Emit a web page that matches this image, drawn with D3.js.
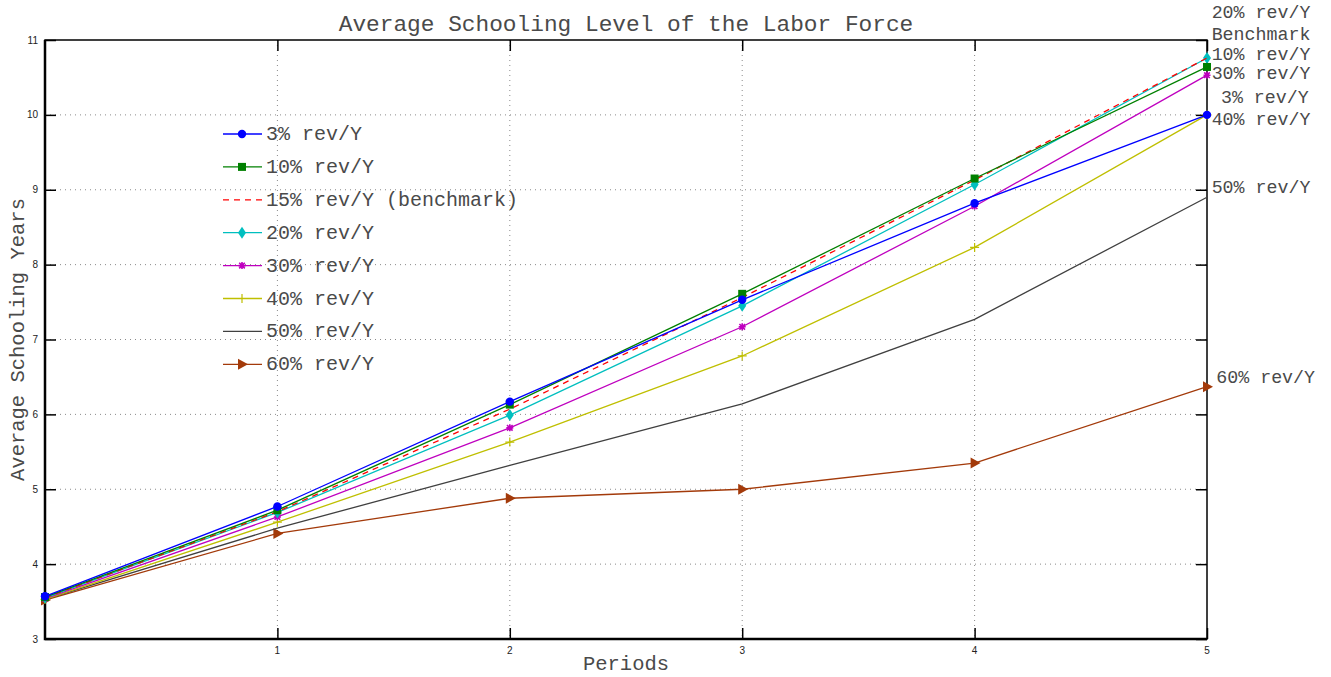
<!DOCTYPE html>
<html>
<head>
<meta charset="utf-8">
<script src="https://cdn.jsdelivr.net/npm/d3@7"></script>
<style>
  html, body { margin: 0; padding: 0; background: #fff; }
  svg { display: block; }
</style>
</head>
<body>
<svg id="chart" width="1331" height="677"></svg>
<script>
// Periods on the horizontal axis
const periods = [0, 1, 2, 3, 4, 5];
const xTicks = [1, 2, 3, 4, 5];
const yTicks = [3, 4, 5, 6, 7, 8, 9, 10, 11];

// Average schooling years per period, one array per revenue scenario
const s3  = [3.57, 4.77, 6.17, 7.53, 8.82, 10.00];
const s10 = [3.56, 4.72, 6.13, 7.61, 9.15, 10.64];
const s15 = [3.55, 4.70, 6.07, 7.56, 9.13, 10.76];
const s20 = [3.55, 4.69, 5.99, 7.45, 9.07, 10.76];
const s30 = [3.54, 4.63, 5.82, 7.17, 8.78, 10.53];
const s40 = [3.53, 4.56, 5.63, 6.78, 8.23, 10.00];
const s50 = [3.53, 4.48, 5.32, 6.14, 7.27, 8.90];
const s60 = [3.52, 4.41, 4.88, 5.00, 5.35, 6.37];

const seriesNames = ["3% rev/Y", "10% rev/Y", "15% rev/Y (benchmark)", "20% rev/Y",
                     "30% rev/Y", "40% rev/Y", "50% rev/Y", "60% rev/Y"];
const seriesValues = [s3, s10, s15, s20, s30, s40, s50, s60];
const seriesColors = ["#0000ff", "#008000", "#ff0000", "#00bfbf",
                      "#bf00bf", "#bfbf00", "#404040", "#a33a0a"];
const seriesMarkers = ["circle", "square", "none", "diamond", "star", "plus", "none", "triangle"];

// End-of-line annotations: text, anchor period, anchor value
const endLabels = ["20% rev/Y", "Benchmark", "10% rev/Y", "30% rev/Y", "3% rev/Y", "40% rev/Y", "50% rev/Y", "60% rev/Y"];
const endLabelX = [5.02, 5.02, 5.02, 5.02, 5.06, 5.02, 5.02, 5.04];
const endLabelY = [11.37, 11.08, 10.81, 10.56, 10.24, 9.95, 9.04, 6.50];

const svg = d3.select("#chart");
const mLeft = 45, mRight = 1207, mTop = 40, mBottom = 639;
const mono = "'Liberation Mono', 'DejaVu Sans Mono', monospace";
const sans = "'Liberation Sans', Arial, sans-serif";
const textColor = "#4a4a4a";

const x = d3.scaleLinear().domain([0, 5]).range([mLeft, mRight]);
const y = d3.scaleLinear().domain([3, 11]).range([mBottom, mTop]);

// Dotted grid
const grid = svg.append("g");
grid.selectAll("line.gy").data(yTicks.slice(1, -1)).join("line")
  .attr("x1", mLeft).attr("x2", mRight)
  .attr("y1", d => y(d)).attr("y2", d => y(d))
  .attr("stroke", "#8a8a8a").attr("stroke-width", 1).attr("stroke-dasharray", "1,4");
grid.selectAll("line.gx").data(xTicks.slice(0, -1)).join("line")
  .attr("x1", d => x(d)).attr("x2", d => x(d))
  .attr("y1", mTop).attr("y2", mBottom)
  .attr("stroke", "#8a8a8a").attr("stroke-width", 1).attr("stroke-dasharray", "1,4");

// Axes with inward ticks
const yAxisL = d3.axisRight(y).tickValues(yTicks).tickSize(11).tickFormat("");
const yAxisR = d3.axisLeft(y).tickValues(yTicks).tickSize(11).tickFormat("");
const xAxisB = d3.axisTop(x).tickValues(xTicks).tickSize(11).tickFormat("");
const xAxisT = d3.axisBottom(x).tickValues(xTicks).tickSize(11).tickFormat("");

function styleAxis(g) {
  g.select(".domain").remove();
  g.selectAll(".tick line").attr("stroke", "#000").attr("stroke-width", 1.5);
}
svg.append("g").attr("transform", `translate(${mLeft},0)`).call(yAxisL).call(styleAxis);
svg.append("g").attr("transform", `translate(${mRight},0)`).call(yAxisR).call(styleAxis);
svg.append("g").attr("transform", `translate(0,${mBottom})`).call(xAxisB).call(styleAxis);
svg.append("g").attr("transform", `translate(0,${mTop})`).call(xAxisT).call(styleAxis);

// Tick labels
svg.append("g").selectAll("text").data(yTicks).join("text")
  .attr("x", mLeft - 7).attr("y", d => y(d) + 3.5)
  .attr("text-anchor", "end").attr("font-family", sans).attr("font-size", 10)
  .attr("fill", "#222").text(d => d);
svg.append("g").selectAll("text").data(xTicks).join("text")
  .attr("x", d => x(d)).attr("y", mBottom + 15)
  .attr("text-anchor", "middle").attr("font-family", sans).attr("font-size", 10)
  .attr("fill", "#222").text(d => d);

// Plot frame
svg.append("rect").attr("x", mLeft).attr("y", mTop)
  .attr("width", mRight - mLeft).attr("height", mBottom - mTop)
  .attr("fill", "none").attr("stroke", "#000").attr("stroke-width", 1.5);
svg.append("path")
  .attr("d", `M${mLeft},${mTop}V${mBottom}H${mRight}`)
  .attr("fill", "none").attr("stroke", "#000").attr("stroke-width", 2.5);

// Marker drawing
function drawMarker(g, type, color, cx, cy) {
  if (type === "circle") {
    g.append("circle").attr("cx", cx).attr("cy", cy).attr("r", 4.2).attr("fill", color);
  } else if (type === "square") {
    g.append("rect").attr("x", cx - 4).attr("y", cy - 4).attr("width", 8).attr("height", 8).attr("fill", color);
  } else if (type === "diamond") {
    g.append("path").attr("d", `M${cx},${cy - 6}L${cx + 4},${cy}L${cx},${cy + 6}L${cx - 4},${cy}Z`).attr("fill", color);
  } else if (type === "star") {
    const s = 3.5;
    g.append("path")
      .attr("d", `M${cx - s},${cy}H${cx + s}M${cx},${cy - s}V${cy + s}M${cx - s * 0.8},${cy - s * 0.8}L${cx + s * 0.8},${cy + s * 0.8}M${cx - s * 0.8},${cy + s * 0.8}L${cx + s * 0.8},${cy - s * 0.8}`)
      .attr("stroke", color).attr("stroke-width", 1.6);
  } else if (type === "plus") {
    const s = 4.5;
    g.append("path").attr("d", `M${cx - s},${cy}H${cx + s}M${cx},${cy - s}V${cy + s}`)
      .attr("stroke", color).attr("stroke-width", 1.2);
  } else if (type === "triangle") {
    g.append("path").attr("d", `M${cx + 6},${cy}L${cx - 4},${cy - 5.5}L${cx - 4},${cy + 5.5}Z`).attr("fill", color);
  }
}

// Series lines and markers (drawn from the last series to the first)
const line = d3.line().x((d, i) => x(periods[i])).y(d => y(d));
const plot = svg.append("g");
for (let k = seriesValues.length - 1; k >= 0; k--) {
  const g = plot.append("g");
  g.append("path").datum(seriesValues[k]).attr("d", line)
    .attr("fill", "none").attr("stroke", seriesColors[k]).attr("stroke-width", 1.3)
    .attr("stroke-dasharray", k === 2 ? "6,5" : null);
  seriesValues[k].forEach((v, i) => drawMarker(g, seriesMarkers[k], seriesColors[k], x(periods[i]), y(v)));
}

// Legend
const legend = svg.append("g");
const legX = 223, legY0 = 134, legDy = 32.9;
seriesNames.forEach((name, k) => {
  const ly = legY0 + k * legDy;
  const g = legend.append("g");
  g.append("line").attr("x1", legX).attr("x2", legX + 39).attr("y1", ly).attr("y2", ly)
    .attr("stroke", seriesColors[k]).attr("stroke-width", 1.3)
    .attr("stroke-dasharray", k === 2 ? "6,5" : null);
  drawMarker(g, seriesMarkers[k], seriesColors[k], legX + 19, ly);
  g.append("text").attr("x", legX + 43).attr("y", ly + 6)
    .attr("font-family", mono).attr("font-size", 20).attr("fill", textColor).text(name);
});

// End-of-line labels
svg.append("g").selectAll("text").data(endLabels).join("text")
  .attr("x", (d, i) => x(endLabelX[i])).attr("y", (d, i) => y(endLabelY[i]) + 6)
  .attr("font-family", mono).attr("font-size", 18.3).attr("fill", textColor).text(d => d);

// Title and axis labels
svg.append("text").attr("x", (mLeft + mRight) / 2).attr("y", 31)
  .attr("text-anchor", "middle").attr("font-family", mono).attr("font-size", 22.8)
  .attr("fill", textColor).text("Average Schooling Level of the Labor Force");
svg.append("text").attr("x", (mLeft + mRight) / 2).attr("y", 670)
  .attr("text-anchor", "middle").attr("font-family", mono).attr("font-size", 20.5)
  .attr("fill", textColor).text("Periods");
svg.append("text").attr("transform", `translate(24,${(mTop + mBottom) / 2}) rotate(-90)`)
  .attr("text-anchor", "middle").attr("font-family", mono).attr("font-size", 20.5)
  .attr("fill", textColor).text("Average Schooling Years");
</script>
</body>
</html>
